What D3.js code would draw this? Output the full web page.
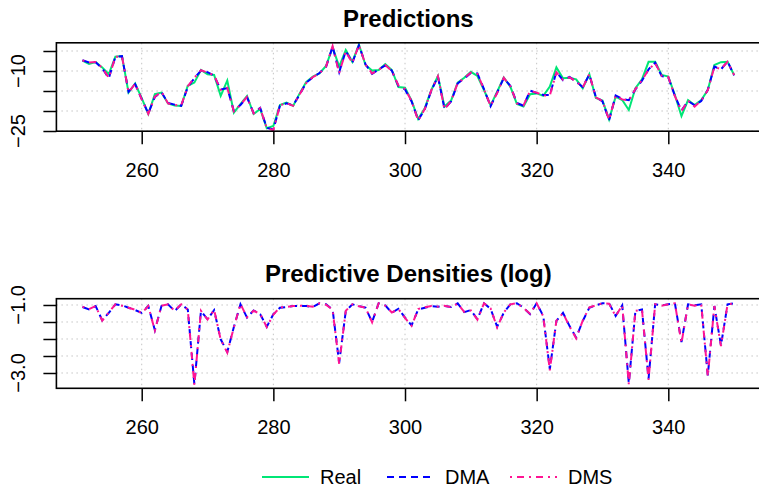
<!DOCTYPE html>
<html>
<head>
<meta charset="utf-8">
<script src="https://cdn.jsdelivr.net/npm/d3@7"></script>
<style>
body { margin: 0; background: #fff; }
svg { display: block; font-family: "Liberation Sans", Arial, sans-serif; }
</style>
</head>
<body>
<div id="chart"></div>
<script>
// time index 251..350
var time = d3.range(251, 351);

var real = [-7.4, -8.25, -7.75, -9.1, -10.8, -6.4, -6.25, -15.4, -13.1, -16.8,
    -20.75, -15.8, -15.4, -18.1, -18.6, -18.75, -13.7, -12.9, -9.75, -10.8,
    -11.0, -16.2, -12.4, -20.4, -18.3, -16.25, -20.75, -19.5, -24.3, -23.75,
    -18.5, -17.9, -18.75, -15.6, -12.7, -11.4, -10.6, -8.75, -4.1, -8.9,
    -4.75, -7.7, -3.4, -8.5, -9.9, -9.75, -8.3, -9.75, -14.0, -14.2,
    -17.4, -22.0, -19.3, -14.75, -11.25, -18.9, -17.4, -12.9, -11.7, -10.2,
    -11.25, -14.75, -18.6, -15.2, -11.6, -13.9, -18.25, -18.9, -15.8, -15.6,
    -16.2, -13.9, -9.1, -11.8, -11.7, -12.1, -14.3, -10.8, -16.75, -17.4,
    -22.1, -16.4, -17.25, -19.75, -14.3, -12.1, -7.7, -7.7, -11.0, -11.4,
    -16.0, -21.25, -17.25, -18.5, -17.25, -14.75, -8.5, -7.8, -7.7, -11.0];

var dma = [-7.3, -7.85, -7.8, -9.3, -11.8, -6.5, -6.3, -15.2, -13.3, -17.0,
    -20.6, -16.5, -15.3, -18.0, -18.4, -18.7, -14.0, -11.8, -9.9, -10.3,
    -11.2, -14.6, -14.3, -20.0, -18.5, -16.6, -20.5, -19.2, -24.2, -24.6,
    -18.7, -18.1, -18.6, -15.9, -12.9, -11.6, -10.5, -9.0, -3.9, -10.3,
    -5.0, -7.9, -3.6, -8.3, -10.7, -9.6, -8.6, -9.9, -13.75, -14.6,
    -17.6, -22.3, -19.6, -14.9, -11.4, -19.5, -17.6, -13.1, -11.9, -10.5,
    -10.6, -14.5, -18.8, -15.4, -11.8, -13.7, -18.0, -18.7, -14.9, -15.5,
    -16.0, -16.0, -10.2, -12.3, -11.5, -12.7, -14.0, -10.9, -16.5, -17.6,
    -22.3, -16.1, -17.0, -17.3, -14.6, -12.4, -9.6, -7.9, -11.3, -11.6,
    -16.2, -19.9, -17.5, -18.6, -17.5, -14.7, -8.9, -9.6, -7.6, -11.1];

var dms = [-7.35, -7.9, -7.75, -9.2, -11.7, -6.45, -6.35, -15.3, -13.2, -17.1,
    -20.7, -16.4, -15.2, -18.1, -18.5, -18.6, -13.8, -11.7, -9.8, -10.4,
    -11.1, -14.7, -14.2, -20.1, -18.4, -16.5, -20.6, -19.3, -24.3, -24.8,
    -18.6, -18.0, -18.7, -15.8, -13.0, -11.5, -10.6, -8.9, -3.8, -10.5,
    -5.1, -8.0, -3.5, -8.4, -10.6, -9.7, -8.5, -10.0, -13.6, -14.5,
    -17.5, -22.4, -19.5, -14.8, -11.3, -19.6, -17.5, -13.0, -11.8, -10.4,
    -10.7, -14.6, -18.7, -15.5, -11.7, -13.8, -18.1, -18.6, -15.0, -15.4,
    -16.1, -16.1, -10.3, -12.2, -11.6, -12.6, -14.1, -10.8, -16.6, -17.5,
    -22.2, -16.2, -17.1, -17.4, -14.5, -12.3, -9.7, -8.0, -11.2, -11.5,
    -16.3, -20.0, -17.4, -18.9, -17.4, -14.8, -9.0, -9.5, -7.7, -11.0];

var dmaDens = [-1.06, -1.13, -1.03, -1.45, -1.23, -0.98, -1.01, -1.08, -1.15, -1.23,
    -1.03, -1.74, -1.03, -0.98, -1.18, -0.98, -1.13, -3.33, -1.18, -1.42,
    -1.15, -2.01, -2.38, -1.65, -0.98, -1.37, -1.16, -1.27, -1.64, -1.27,
    -1.08, -1.06, -1.03, -1.03, -1.03, -1.06, -0.95, -0.98, -1.13, -2.70,
    -1.18, -0.98, -1.03, -1.08, -1.50, -0.95, -1.01, -1.23, -1.11, -1.37,
    -1.60, -1.13, -1.08, -1.03, -1.05, -1.03, -1.06, -0.95, -1.21, -1.15,
    -1.42, -0.95, -1.11, -1.64, -1.23, -0.98, -0.95, -1.08, -1.27, -0.95,
    -1.32, -2.89, -1.47, -1.23, -1.62, -1.96, -1.47, -1.08, -1.01, -0.95,
    -0.95, -1.32, -1.01, -3.30, -1.18, -1.13, -3.17, -0.98, -1.01, -0.98,
    -0.95, -2.09, -0.98, -1.01, -0.98, -3.07, -1.03, -2.19, -0.98, -0.95];

var dmsDens = [-1.05, -1.12, -1.03, -1.46, -1.22, -0.98, -1.02, -1.08, -1.14, -1.24,
    -1.03, -1.75, -1.02, -0.98, -1.17, -0.98, -1.14, -3.35, -1.17, -1.43,
    -1.14, -2.02, -2.40, -1.66, -0.97, -1.36, -1.17, -1.26, -1.65, -1.28,
    -1.07, -1.06, -1.03, -1.02, -1.03, -1.05, -0.95, -0.99, -1.14, -2.74,
    -1.17, -0.98, -1.04, -1.08, -1.51, -0.95, -1.02, -1.22, -1.12, -1.38,
    -1.61, -1.12, -1.07, -1.03, -1.05, -1.02, -1.06, -0.96, -1.20, -1.16,
    -1.43, -0.95, -1.10, -1.66, -1.22, -0.98, -0.95, -1.09, -1.26, -0.95,
    -1.33, -2.92, -1.46, -1.24, -1.63, -1.98, -1.46, -1.07, -1.01, -0.95,
    -0.96, -1.33, -1.01, -3.33, -1.17, -1.14, -3.20, -0.98, -1.02, -0.98,
    -0.95, -2.12, -0.98, -1.02, -0.98, -3.10, -1.03, -2.21, -0.98, -0.95];

var xTicks = [260, 280, 300, 320, 340];
var predTicks = [-25, -20, -15, -10, -5];
var predLabels = [-25, -10];
var densTicks = [-3.0, -2.5, -2.0, -1.5, -1.0];
var densLabels = [-3.0, -1.0];

var legendNames = ["Real", "DMA", "DMS"];
var colors = {Real: "#00E676", DMA: "#0000FF", DMS: "#FF1493"};
var dashes = {Real: null, DMA: "7,5", DMS: "2,5,7,5"};

var width = 759,
    height = 488;

var svg = d3.select("#chart").append("svg").attr("width", width).attr("height", height);

var x = d3.scaleLinear().domain([247.04, 353.96]).range([56.4, 760.2]);

var minus = function(s) { return s.replace("-", "\u2212"); };

function drawPanel(p) {
    var y = d3.scaleLinear().domain(p.domain).range([p.bottom, p.top]);
    var g = svg.append("g");

    // dotted grid
    g.selectAll(".gx").data(xTicks).enter().append("line")
        .attr("x1", function(d) { return x(d); }).attr("x2", function(d) { return x(d); })
        .attr("y1", p.top).attr("y2", p.bottom)
        .attr("stroke", "#c4c4c4").attr("stroke-dasharray", "1.5,3.5");
    g.selectAll(".gy").data(p.ticks).enter().append("line")
        .attr("x1", x.range()[0]).attr("x2", x.range()[1])
        .attr("y1", function(d) { return y(d); }).attr("y2", function(d) { return y(d); })
        .attr("stroke", "#c4c4c4").attr("stroke-dasharray", "1.5,3.5");

    var line = d3.line().x(function(d, i) { return x(time[i]); }).y(function(d) { return y(d); });
    p.series.forEach(function(s) {
        g.append("path").datum(s.values)
            .attr("d", line)
            .attr("fill", "none")
            .attr("stroke", colors[s.name])
            .attr("stroke-width", 2)
            .attr("stroke-dasharray", dashes[s.name]);
    });

    g.append("rect")
        .attr("x", x.range()[0]).attr("y", p.top)
        .attr("width", x.range()[1] - x.range()[0]).attr("height", p.bottom - p.top)
        .attr("fill", "none").attr("stroke", "#000").attr("stroke-width", 1.6);

    var xa = g.append("g").attr("transform", "translate(0," + p.bottom + ")")
        .call(d3.axisBottom(x).tickValues(xTicks).tickSize(13).tickPadding(19).tickFormat(d3.format("d")));
    xa.select(".domain").remove();
    xa.attr("font-family", null);
    xa.selectAll("line").attr("stroke", "#000").attr("stroke-width", 1.5);
    xa.selectAll("text").attr("font-size", 20).attr("fill", "#000");

    var ya = g.append("g").attr("transform", "translate(" + x.range()[0] + ",0)")
        .call(d3.axisLeft(y).tickValues(p.ticks).tickSize(13).tickFormat(""));
    ya.select(".domain").remove();
    ya.selectAll("line").attr("stroke", "#000").attr("stroke-width", 1.5);

    g.selectAll(".ylab").data(p.labels).enter().append("text")
        .attr("transform", function(d) { return "translate(25," + y(d) + ") rotate(-90)"; })
        .attr("text-anchor", "middle")
        .attr("font-size", 20)
        .text(function(d) { return minus(p.fmt(d)); });

    svg.append("text")
        .attr("x", (x.range()[0] + x.range()[1]) / 2).attr("y", p.titleY)
        .attr("text-anchor", "middle")
        .attr("font-size", 24).attr("font-weight", "bold")
        .text(p.title);
}

drawPanel({
    title: "Predictions", titleY: 26.5,
    top: 42.8, bottom: 131.2, domain: [-25.05, -2.95],
    ticks: predTicks, labels: predLabels, fmt: d3.format("d"),
    series: [{name: "Real", values: real}, {name: "DMA", values: dma}, {name: "DMS", values: dms}]
});

drawPanel({
    title: "Predictive Densities (log)", titleY: 281.5,
    top: 298.7, bottom: 388.3, domain: [-3.45, -0.815],
    ticks: densTicks, labels: densLabels, fmt: d3.format(".1f"),
    series: [{name: "DMA", values: dmaDens}, {name: "DMS", values: dmsDens}]
});

// legend, no box
var legendX = [262, 387, 510];
var legend = svg.selectAll(".legend").data(legendNames).enter().append("g")
    .attr("transform", function(d, i) { return "translate(" + legendX[i] + ",477)"; });
legend.append("line")
    .attr("x1", 0).attr("x2", 47).attr("y1", 0).attr("y2", 0)
    .attr("stroke", function(d) { return colors[d]; })
    .attr("stroke-width", 2)
    .attr("stroke-dasharray", function(d) { return dashes[d]; });
legend.append("text")
    .attr("x", 58).attr("y", 7.3)
    .attr("font-size", 20)
    .text(function(d) { return d; });
</script>
</body>
</html>
